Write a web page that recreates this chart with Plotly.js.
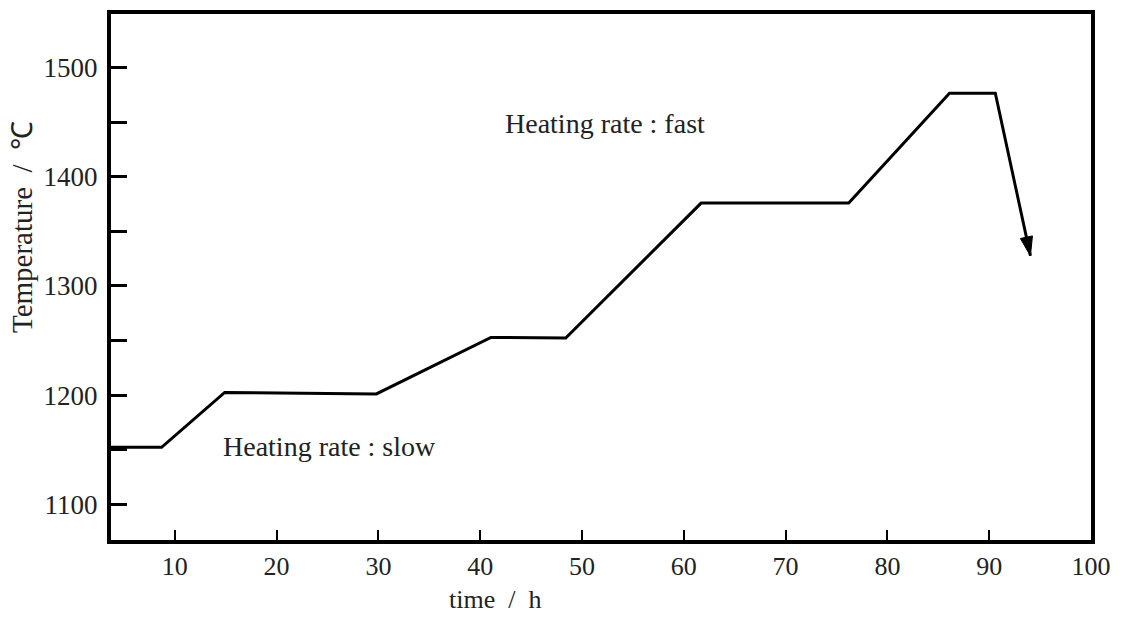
<!DOCTYPE html>
<html>
<head>
<meta charset="utf-8">
<script src="https://cdn.plot.ly/plotly-3.0.1.min.js"></script>
<style>html,body{margin:0;padding:0;background:#fff}</style>
</head>
<body>
<div id="chart" style="width:1126px;height:618px"></div>
<script>
// time (h) and temperature (°C) of the heating schedule
const timeH = [3.7, 8.7, 14.9, 29.8, 41.05, 48.4, 61.7, 76.2, 86.1, 90.6, 94.05];
const tempC = [1152.4, 1152.4, 1202.6, 1201.2, 1252.9, 1252.4, 1375.8, 1375.8, 1476.3, 1476.3, 1327.6];
const xTicks = [10, 20, 30, 40, 50, 60, 70, 80, 90, 100];
const yTicks = [1100, 1200, 1300, 1400, 1500];
const labelSlow = "Heating rate : slow";
const labelFast = "Heating rate : fast";
const labelSlowPos = [25.2, 1153];
const labelFastPos = [52.3, 1449];
const xTitle = "time\u00A0\u00A0/\u00A0\u00A0h";
const yTitle = "Temperature\u00A0\u00A0/\u00A0\u00A0\u2103";

const FONT = "Liberation Serif, Times New Roman, serif";

const markerSymbols = timeH.map((_, i) => i === timeH.length - 1 ? "arrow" : "circle");
const markerSizes = timeH.map((_, i) => i === timeH.length - 1 ? 20 : 0);

const trace = {
  x: timeH, y: tempC, type: "scatter", mode: "lines+markers",
  line: {color: "#000", width: 3},
  marker: {symbol: markerSymbols, size: markerSizes, color: "#000", opacity: 1, angleref: "previous",
           line: {width: 1, color: "#000"}},
  hoverinfo: "skip", showlegend: false, cliponaxis: false
};

const layout = {
  width: 1126, height: 618,
  margin: {l: 111, r: 35, t: 14, b: 77.5},
  paper_bgcolor: "#fff", plot_bgcolor: "#fff",
  font: {family: FONT, size: 24, color: "#222"},
  xaxis: {
    range: [3.73, 100.0], tickvals: xTicks, ticktext: xTicks.map(String),
    ticks: "inside", ticklen: 10, tickwidth: 2, tickcolor: "#000",
    showline: true, linewidth: 4, linecolor: "#000", mirror: true,
    showgrid: false, zeroline: false,
    tickfont: {family: FONT, size: 26, color: "#222"}
  },
  yaxis: {
    range: [1067.6, 1548.8], tickvals: yTicks, ticktext: yTicks.map(String),
    ticks: "inside", ticklen: 16, tickwidth: 3, tickcolor: "#000",
    minor: {dtick: 50, tick0: 1050, ticks: "inside", ticklen: 16, tickwidth: 3, tickcolor: "#000", showgrid: false},
    showline: true, linewidth: 4, linecolor: "#000", mirror: true,
    showgrid: false, zeroline: false, ticklabelstandoff: 4,
    tickfont: {family: FONT, size: 27, color: "#222"}
  },
  annotations: [
    {x: labelSlowPos[0], y: labelSlowPos[1], xref: "x", yref: "y", text: labelSlow, showarrow: false,
     xanchor: "center", yanchor: "middle", font: {family: FONT, size: 28, color: "#222"}},
    {x: labelFastPos[0], y: labelFastPos[1], xref: "x", yref: "y", text: labelFast, showarrow: false,
     xanchor: "center", yanchor: "middle", font: {family: FONT, size: 28, color: "#222"}},
    {x: -0.0908, y: 0.595, xref: "paper", yref: "paper", text: yTitle, textangle: -90, showarrow: false,
     xanchor: "center", yanchor: "middle", font: {family: FONT, size: 29, color: "#222"}},
    {x: 0.392, y: -0.113, xref: "paper", yref: "paper", text: xTitle, showarrow: false,
     xanchor: "center", yanchor: "middle", font: {family: FONT, size: 26, color: "#222"}}
  ]
};

Plotly.newPlot("chart", [trace], layout, {staticPlot: true, displayModeBar: false});
</script>
</body>
</html>
